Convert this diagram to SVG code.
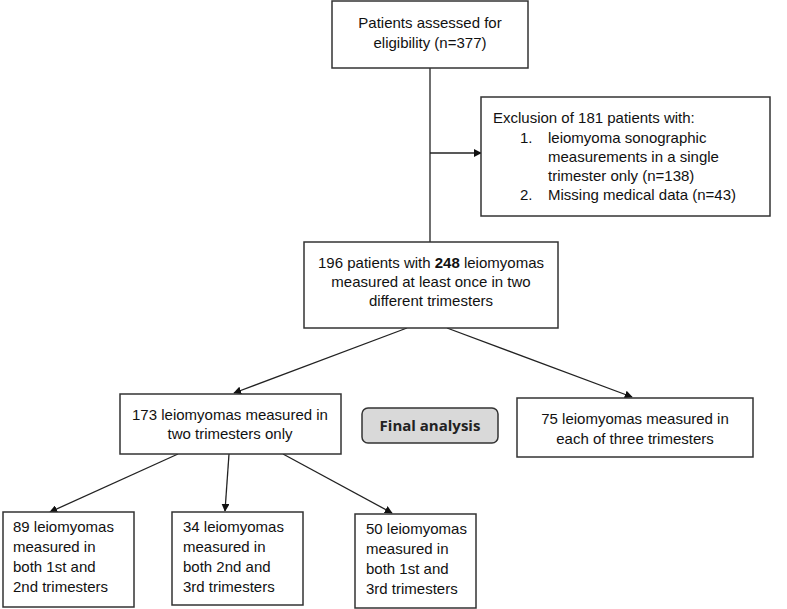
<svg xmlns="http://www.w3.org/2000/svg" width="787" height="609" viewBox="0 0 787 609">
<style>
.box{fill:#fff;stroke:#333;stroke-width:1.5}
.t{font-family:"Liberation Sans",Arial,sans-serif;font-size:15px;fill:#111}
.c{text-anchor:middle}
.ln{stroke:#222;stroke-width:1.3;fill:none;marker-end:url(#ah)}
</style>
<defs>
<marker id="ah" viewBox="0 0 10 10" refX="9" refY="5" markerWidth="8" markerHeight="8" markerUnits="userSpaceOnUse" orient="auto">
<path d="M0,0 L10,5 L0,10 z" fill="#111"/>
</marker>
</defs>
<rect width="787" height="609" fill="#fff"/>
<g id="connectors">
<line x1="430" y1="68" x2="430" y2="242" stroke="#222" stroke-width="1.3"/>
<line class="ln" x1="430" y1="153" x2="481" y2="153"/>
<line class="ln" x1="407" y1="328" x2="234" y2="393"/>
<line class="ln" x1="447" y1="328" x2="632" y2="397"/>
<line class="ln" x1="178" y1="454" x2="50" y2="512"/>
<line class="ln" x1="229" y1="454" x2="225" y2="511"/>
<line class="ln" x1="283" y1="454" x2="392" y2="513"/>
</g>
<g id="n1">
<rect class="box" x="332" y="1" width="196" height="67"/>
<text class="t c" x="430" y="28">Patients assessed  for</text>
<text class="t c" x="430" y="48">eligibility (n=377)</text>
</g>
<g id="n2">
<rect class="box" x="481" y="97" width="289" height="119"/>
<text class="t" x="493" y="123">Exclusion of 181 patients with:</text>
<text class="t" x="520" y="143">1.</text>
<text class="t" x="548" y="143">leiomyoma sonographic</text>
<text class="t" x="548" y="162">measurements in a single</text>
<text class="t" x="548" y="181">trimester only (n=138)</text>
<text class="t" x="520" y="200">2.</text>
<text class="t" x="548" y="200">Missing medical data (n=43)</text>
</g>
<g id="n3">
<rect class="box" x="304" y="242" width="254" height="86"/>
<text class="t c" x="431" y="268">196 patients with <tspan font-weight="bold">248</tspan> leiomyomas</text>
<text class="t c" x="431" y="287">measured at least once in two</text>
<text class="t c" x="431" y="306">different trimesters</text>
</g>
<g id="n4">
<rect class="box" x="120" y="394" width="221" height="60"/>
<text class="t c" x="230" y="420">173 leiomyomas measured in</text>
<text class="t c" x="230" y="439">two trimesters only</text>
</g>
<g id="n5">
<rect x="362" y="408" width="136" height="35" rx="6" fill="#d9d9d9" stroke="#333" stroke-width="1.5"/>
<text x="430" y="431" text-anchor="middle" font-family="'Open Sans','Noto Sans',sans-serif" font-weight="bold" font-size="15" fill="#222">Final analysis</text>
</g>
<g id="n6">
<rect class="box" x="517" y="398" width="236" height="59"/>
<text class="t c" x="635" y="424">75 leiomyomas measured in</text>
<text class="t c" x="635" y="444">each of three trimesters</text>
</g>
<g id="n7">
<rect class="box" x="3" y="512" width="131" height="95"/>
<text class="t" x="13" y="532">89 leiomyomas</text>
<text class="t" x="13" y="552">measured in</text>
<text class="t" x="13" y="572">both 1st and</text>
<text class="t" x="13" y="592">2nd trimesters</text>
</g>
<g id="n8">
<rect class="box" x="172" y="512" width="131" height="93"/>
<text class="t" x="183" y="532">34 leiomyomas</text>
<text class="t" x="183" y="552">measured in</text>
<text class="t" x="183" y="572">both 2nd and</text>
<text class="t" x="183" y="592">3rd trimesters</text>
</g>
<g id="n9">
<rect class="box" x="355" y="514" width="121" height="94"/>
<text class="t" x="366" y="534">50 leiomyomas</text>
<text class="t" x="366" y="554">measured in</text>
<text class="t" x="366" y="574">both 1st and</text>
<text class="t" x="366" y="594">3rd trimesters</text>
</g>
</svg>
